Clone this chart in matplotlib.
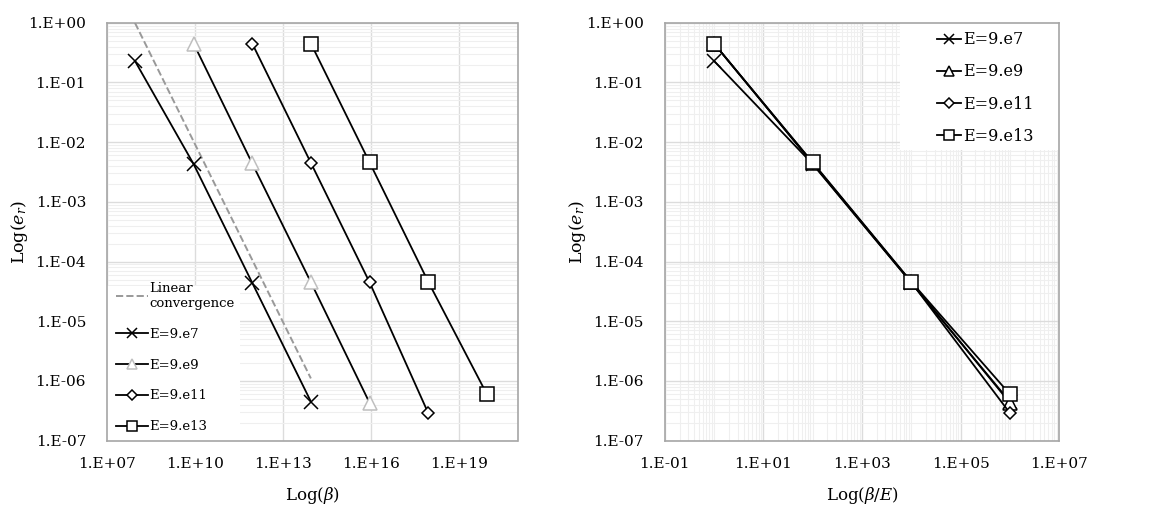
import matplotlib
matplotlib.use("Agg")
import matplotlib.pyplot as plt
from matplotlib.ticker import FixedLocator, LogLocator, NullFormatter, FuncFormatter
from matplotlib.patches import Rectangle
import numpy as np

plt.rcParams['font.family'] = ['DejaVu Serif']
plt.rcParams['mathtext.fontset'] = 'dejavuserif'

# data
E_vals = [9e7, 9e9, 9e11, 9e13]
labels = ["E=9.e7", "E=9.e9", "E=9.e11", "E=9.e13"]
ratio = [1, 1e2, 1e4, 1e6]          # beta / E
err = [
    [2.3e-1, 4.3e-3, 4.4e-5, 4.5e-7],
    [4.5e-1, 4.4e-3, 4.5e-5, 4.3e-7],
    [4.5e-1, 4.5e-3, 4.5e-5, 2.9e-7],
    [4.5e-1, 4.6e-3, 4.6e-5, 6.0e-7],
]
lin_beta = [9e7, 9e13]
lin_err = [1.0, 1.1e-6]

markers = ['x', '^', 'D', 's']
msizes = [10, 10, 6.5, 10]
medge_left = ['black', '#bfbfbf', 'black', 'black']


def sci(v, pos):
    e = int(round(np.log10(v)))
    return "1.E%s%02d" % ("+" if e >= 0 else "-", abs(e))


def style(ax, ylab_x):
    ax.set_yscale('log')
    ax.set_xscale('log')
    ax.set_ylim(1e-7, 1)
    ax.yaxis.set_major_locator(FixedLocator([10.0 ** k for k in range(-7, 1)]))
    ax.yaxis.set_minor_locator(LogLocator(base=10, subs=np.arange(2, 10), numticks=20))
    ax.yaxis.set_major_formatter(FuncFormatter(sci))
    ax.yaxis.set_minor_formatter(NullFormatter())
    for s in ax.spines.values():
        s.set_color('#a6a6a6')
        s.set_linewidth(1.2)
    ax.tick_params(which='both', length=0, labelsize=11)
    ax.tick_params(axis='y', pad=15)
    ax.tick_params(axis='x', pad=12)
    ax.grid(True, which='major', color='#dcdcdc', lw=1.0)
    ax.set_ylabel(r'Log($e_r$)', fontsize=12.5)
    ax.yaxis.set_label_coords(ylab_x, 0.5)


fig = plt.figure(figsize=(11.5, 5.07), dpi=100)
ax1 = fig.add_axes([0.093, 0.131, 0.357, 0.824])
ax2 = fig.add_axes([0.578, 0.131, 0.343, 0.824])

# left panel
style(ax1, -0.188)
ax1.set_xlim(1e7, 1e21)
ax1.xaxis.set_major_locator(FixedLocator([10.0 ** k for k in range(7, 22, 3)]))
ax1.xaxis.set_minor_locator(FixedLocator([]))
ax1.xaxis.set_major_formatter(FuncFormatter(sci))
ax1.yaxis.grid(True, which='minor', color='#efefef', lw=0.8)
ax1.add_patch(Rectangle((0, 0), 0.325, 0.37, transform=ax1.transAxes,
                        facecolor='white', edgecolor='none', zorder=2.2))
ax1.plot(lin_beta, lin_err, ls='--', color='#999999', lw=1.4, label="Linear\nconvergence", zorder=3)
for i in range(4):
    beta = [E_vals[i] * r for r in ratio]
    ax1.plot(beta, err[i], color='black', lw=1.3, marker=markers[i], ms=msizes[i],
             mfc='white', mec=medge_left[i], mew=1.1, label=labels[i], zorder=3)
ax1.set_xlabel(r'Log($\beta$)', fontsize=12, labelpad=10)
ax1.legend(loc='lower left', bbox_to_anchor=(0.01, 0.005), fontsize=9.5, frameon=False,
           handlelength=2.4, labelspacing=1.35, borderaxespad=0, handletextpad=0.1,
           markerscale=0.75)

# right panel
style(ax2, -0.195)
ax2.set_xlim(1e-1, 1e7)
ax2.xaxis.set_major_locator(FixedLocator([10.0 ** k for k in range(-1, 8, 2)]))
ax2.xaxis.set_minor_locator(LogLocator(base=10, subs=np.arange(1, 10), numticks=20))
ax2.xaxis.set_major_formatter(FuncFormatter(sci))
ax2.xaxis.set_minor_formatter(NullFormatter())
ax2.grid(True, which='minor', color='#efefef', lw=0.8)
ax2.add_patch(Rectangle((0.596, 0.695), 0.404, 0.305, transform=ax2.transAxes,
                        facecolor='white', edgecolor='none', zorder=2.2))
for i in range(4):
    ax2.plot(ratio, err[i], color='black', lw=1.3, marker=markers[i], ms=msizes[i],
             mfc='white', mec='black', mew=1.1, label=labels[i], zorder=3 + i)
ax2.set_xlabel(r'Log($\beta/E$)', fontsize=12, labelpad=10)
ax2.legend(loc='upper left', bbox_to_anchor=(0.675, 0.995), fontsize=11.5, frameon=False,
           handlelength=1.5, labelspacing=0.95, borderaxespad=0, handletextpad=0.1,
           markerscale=0.75)

fig.savefig("out.png", dpi=100)
